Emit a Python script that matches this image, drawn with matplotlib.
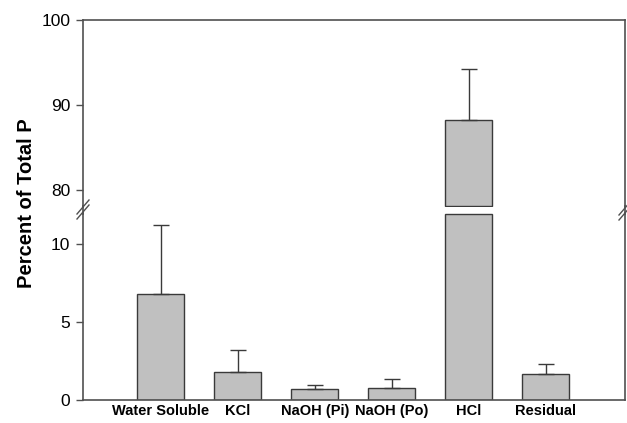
import matplotlib
matplotlib.use("Agg")
import matplotlib.pyplot as plt
import numpy as np

plt.rcParams['font.family'] = ['Liberation Sans', 'DejaVu Sans']

categories = ["Water Soluble", "KCl", "NaOH (Pi)", "NaOH (Po)", "HCl", "Residual"]
means = [6.8, 1.8, 0.7, 0.8, 88.2, 1.7]
errors = [4.4, 1.4, 0.25, 0.55, 6.0, 0.6]

x = np.arange(len(categories))
bar_color = "#c0c0c0"
edge_color = "#3a3a3a"
spine_color = "#505050"

W, H = 627, 423
fig = plt.figure(figsize=(W / 100, H / 100), dpi=100)
left, width = 83 / W, 542 / W
ax_top = fig.add_axes([left, 1 - 207 / H, width, 187 / H])
ax_bot = fig.add_axes([left, 1 - 400 / H, width, 187 / H])

means = np.array(means)
segments = ((ax_top, (78, 100)), (ax_bot, (0, 12)))

# bars are cut at each segment's edge so both halves stay closed boxes
for ax, (lo, hi) in segments:
    pad = (hi - lo) * 0.008
    vis = means > lo
    base = lo + pad if lo > 0 else 0
    bottoms = np.full(len(means), float(base))
    heights = np.minimum(means, hi - pad) - bottoms
    ax.bar(x[vis], heights[vis], bottom=bottoms[vis], width=0.61, color=bar_color,
           edgecolor=edge_color, linewidth=1.0, zorder=2)
    ax.errorbar(x, means, yerr=[np.zeros(len(means)), errors], fmt="none",
                ecolor=edge_color, elinewidth=1.0, capsize=6, capthick=1.0, zorder=3)
    ax.set_xlim(-1.01, 6.03)
    ax.set_ylim(lo, hi)
    for s in ax.spines.values():
        s.set_color(spine_color)
        s.set_linewidth(1.2)
    ax.tick_params(axis="y", direction="out", length=5, width=1.0, color=spine_color,
                   labelsize=12.5, pad=4)

ax_top.set_yticks([80, 90, 100])
ax_top.spines["bottom"].set_visible(False)
ax_top.tick_params(axis="x", bottom=False, labelbottom=False)

ax_bot.set_yticks([0, 5, 10])
ax_bot.spines["top"].set_visible(False)
ax_bot.set_xticks(x)
ax_bot.set_xticklabels(categories, fontsize=10.5, fontweight="bold")
ax_bot.tick_params(axis="x", length=0, pad=3)

# spines run on through the gap, with // break marks
kw = dict(transform=fig.transFigure, color=spine_color, clip_on=False)
for xf in (left, left + width):
    fig.add_artist(plt.Line2D([xf, xf], [1 - 206 / H, 1 - 214 / H], linewidth=1.2, **kw))
for xf, yc in ((left, (207, 212)), (left + width, (208, 213))):
    for yy in yc:
        fig.add_artist(plt.Line2D([xf - 6 / W, xf + 6 / W],
                                  [1 - (yy + 7) / H, 1 - (yy - 7) / H], linewidth=1.0, **kw))

fig.text(0.042, 0.52, "Percent of Total P", rotation=90, va="center", ha="center",
         fontsize=14.5, fontweight="bold")

fig.savefig("out.png", dpi=100)
